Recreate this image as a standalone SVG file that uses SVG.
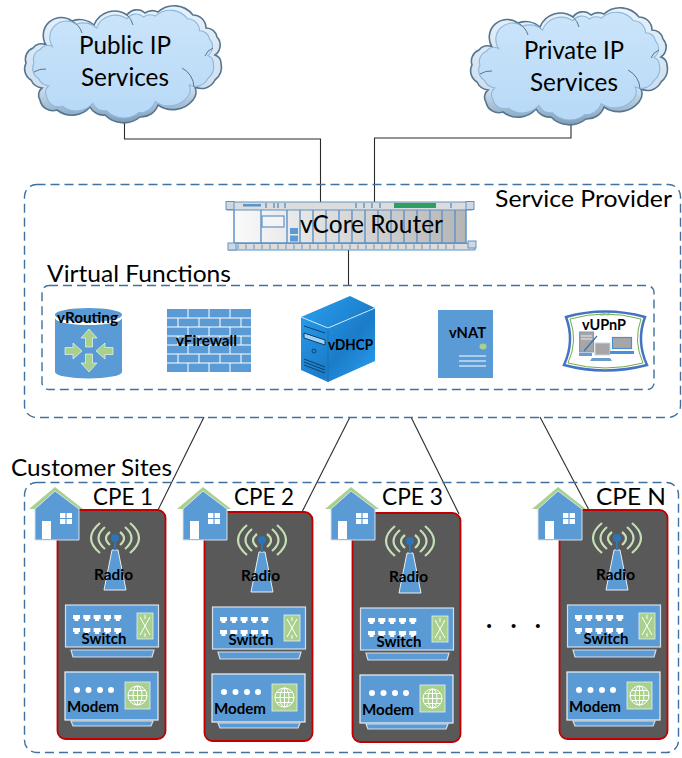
<svg xmlns="http://www.w3.org/2000/svg" xmlns:xlink="http://www.w3.org/1999/xlink" width="682" height="758" viewBox="0 0 682 758">
<style>
text{font-family:Lato,"Open Sans","Liberation Sans",sans-serif;fill:#000}
.big{font-size:25px}
.mid{font-size:23px}
.lab{font-size:15px;font-weight:700}
.dash{fill:none;stroke:#41719c;stroke-width:1.4;stroke-dasharray:9 5}
.wire{fill:none;stroke:#2b2b2b;stroke-width:1.1}
.blue{fill:#5b9bd5}
.green{fill:#a9d18e}
.edge{stroke:#d5dee8;stroke-width:1.2}
.slot{fill:none;stroke:#5f93c6;stroke-width:1.4}
</style>
<defs>
<linearGradient id="cl" x1="0" y1="0" x2="0" y2="1"><stop offset="0" stop-color="#cbe4fa"/><stop offset="1" stop-color="#b7d9f7"/></linearGradient>
<linearGradient id="clo" x1="0" y1="0" x2="0" y2="1"><stop offset="0" stop-color="#e6f2fc"/><stop offset=".7" stop-color="#cfdfee"/><stop offset="1" stop-color="#7f9db8"/></linearGradient>
<linearGradient id="rt" x1="0" y1="0" x2="1" y2="0"><stop offset="0" stop-color="#fafafa"/><stop offset="1" stop-color="#b5b5b5"/></linearGradient>
<linearGradient id="srv" x1="0" y1="0" x2="1" y2="1"><stop offset="0" stop-color="#2aa1f2"/><stop offset="0.6" stop-color="#1b7cc8"/><stop offset="1" stop-color="#2aa1f2"/></linearGradient>
<path id="cloudp" d="M46 45A18 18 0 0 1 72 21A22 22 0 0 1 94 25A22 22 0 0 1 127 15A12 12 0 0 1 145 13A13 13 0 0 1 158 12A24 24 0 0 1 193 15A13 13 0 0 1 206 28A11 11 0 0 1 217 37A12 12 0 0 1 215 55A9 9 0 0 1 221 63A17 17 0 0 1 215 80A15 15 0 0 1 195 87A13 13 0 0 1 193 100A26 26 0 0 1 158 105A18 18 0 0 1 140 117A26 26 0 0 1 105 115A15 15 0 0 1 90 107A24 24 0 0 1 57 110A13 13 0 0 1 40 100A9 9 0 0 1 42 88A14 14 0 0 1 31 80A13 13 0 0 1 26 63A12 12 0 0 1 33 48A10 10 0 0 1 46 45Z"/>
<g id="cloud">
<use xlink:href="#cloudp" fill="url(#clo)" stroke="#56768f" stroke-width="1.600"/>
<use xlink:href="#cloudp" fill="url(#cl)" stroke="#8db6da" stroke-width="1.200" transform="translate(10 5) scale(.92 .92)"/>
<path d="M182 68a22 22 0 0 1 12 19M205 56a14 14 0 0 1 8-8M72 21a20 20 0 0 1 10 12M127 15a20 20 0 0 1 6 10M34 72a20 20 0 0 1 12-3" fill="none" stroke="#56768f" stroke-width="1"/>
</g>
<g id="house">
<path class="green" d="M29 509L55 487L83 509L79 509L55 491L35 509Z"/>
<path class="blue" stroke="#d5dee8" d="M35 509L55 491L79 509V540H35Z"/>
<rect x="42" y="521" width="9" height="18" fill="#fff"/>
<path d="M60 513H72V524H60Z" fill="#fff"/>
<path d="M66 513V524M60 518.500H72" stroke="#5b9bd5" stroke-width="1.200"/>
</g>
<g id="cpe">
<rect x="57.500" y="510" width="108" height="229" rx="8" fill="#595959" stroke="#c00000" stroke-width="1.800"/>
<g fill="none" stroke="#c5e0b4" stroke-width="2.200">
<path d="M100 523Q82 538 100 553M130 523Q148 538 130 553"/>
<path d="M105 527Q92 538 105 549M125 527Q138 538 125 549"/>
<path d="M110 532Q102 538 110 545M120 532Q128 538 120 545"/>
</g>
<path d="M112 550H118L126 590H104Z" class="blue" stroke="#e7eef5"/>
<circle cx="115" cy="538" r="4" fill="#2e75b6"/>
<rect x="114" y="540" width="2" height="10" fill="#2e75b6"/>
<rect x="65.500" y="605" width="93" height="42" class="blue edge"/>
<path d="M71 650H154L152 657H73Z" class="blue edge"/>
<g fill="#fff">
<path id="pa" d="M73 615h7v4h-1.500v2h-4v-2h-1.500z"/>
<use xlink:href="#pa" x="10.300"/><use xlink:href="#pa" x="20.600"/><use xlink:href="#pa" x="31"/><use xlink:href="#pa" x="41.300"/>
<use xlink:href="#pa" y="13"/><use xlink:href="#pa" x="10.300" y="13"/><use xlink:href="#pa" x="20.600" y="13"/><use xlink:href="#pa" x="31" y="13"/><use xlink:href="#pa" x="41.300" y="13"/>
</g>
<rect x="137" y="613" width="16" height="26" class="green" stroke="#e7eef5" stroke-width=".8"/>
<path d="M140 617L150 635M150 617L140 635M145 615V619M145 633V637" stroke="#fff" fill="none"/>
<rect x="65" y="672" width="93" height="48" class="blue" stroke="#eef2f6" stroke-width="1.200"/>
<path d="M71 721H153L151 726H73Z" class="blue edge"/>
<g fill="#fff"><circle cx="77" cy="690" r="3"/><circle cx="88.500" cy="690" r="3"/><circle cx="100" cy="690" r="3"/><circle cx="111" cy="690" r="3"/></g>
<rect x="125" y="682" width="25" height="27" class="green" stroke="#e7eef5" stroke-width=".8"/>
<g fill="none" stroke="#fff" stroke-width="1"><circle cx="137.500" cy="695.500" r="9.500"/><ellipse cx="137.500" cy="695.500" rx="4.500" ry="9.500"/><path d="M137.500 686V705M128 695.500H147M129.500 690.500H145.500M129.500 700.500H145.500"/></g>
</g>
</defs>

<g id="connectors">
<path class="wire" d="M124.500 117V139H320.500V202"/>
<path class="wire" d="M571 118V138H374.500V202"/>
<path class="wire" d="M348.500 250V285"/>
<path class="wire" d="M204 417L158 510"/>
<path class="wire" d="M350 417L302 512"/>
<path class="wire" d="M411 417L459 514"/>
<path class="wire" d="M540 417L590 512"/>
</g>

<g id="cloud-public"><use xlink:href="#cloud"/>
<text class="big" x="79" y="54" textLength="92" lengthAdjust="spacingAndGlyphs">Public IP</text>
<text class="big" x="81" y="86" textLength="88" lengthAdjust="spacingAndGlyphs">Services</text></g>
<g id="cloud-private"><use xlink:href="#cloud" transform="translate(446 2)"/>
<text class="big" x="524" y="59" textLength="100" lengthAdjust="spacingAndGlyphs">Private IP</text>
<text class="big" x="530" y="91" textLength="88" lengthAdjust="spacingAndGlyphs">Services</text></g>

<g id="service-provider">
<rect class="dash" x="24.500" y="184.500" width="656" height="233" rx="12"/>
<text class="mid" x="495" y="207" textLength="177" lengthAdjust="spacingAndGlyphs">Service Provider</text>
</g>

<g id="vcore-router">
<rect x="234" y="209" width="232" height="34" fill="url(#rt)" stroke="#5f93c6" stroke-width="1.500"/>
<rect x="227" y="202" width="245" height="8" fill="#dcdcdc" stroke="#5f93c6"/>
<rect x="226" y="201.500" width="8" height="8" fill="#cfd8e2" stroke="#5f93c6"/>
<rect x="466" y="201.500" width="8" height="8" fill="#cfd8e2" stroke="#5f93c6"/>
<rect x="229" y="243.500" width="246" height="6.500" fill="#dcdcdc" stroke="#5f93c6"/>
<rect x="228" y="243" width="8" height="7" fill="#cfd8e2" stroke="#5f93c6"/>
<rect x="468" y="241" width="8" height="7" fill="#cfd8e2" stroke="#5f93c6"/>
<path class="slot" d="M261 210V243M287 210V243M300 210V243M313 210V243M326 210V243M339 210V243M352 210V243M365 210V243M378 210V243M391 210V243M404 210V243M417 210V243M430 210V243M442 210V243M455 210V243"/>
<rect x="262" y="216" width="22" height="11" fill="#f4f4f4" stroke="#5f93c6" stroke-width="1.200"/>
<rect x="290" y="228" width="8" height="6" fill="#5b9bd5"/><rect x="290" y="235.500" width="8" height="6" fill="#5b9bd5"/>
<rect x="394" y="203" width="42" height="5" fill="#2f9e63"/>
<path class="slot" d="M266 203V208M274 203V208M278 203V208M285 203V208M356 203V208M364 203V208M372 203V208M380 203V208M451 203V208"/>
<rect x="243" y="204" width="18" height="2.500" fill="#5f93c6"/>
<path d="M238 244.500V249M246 244.500V249M254 244.500V249M262 244.500V249M270 244.500V249M278 244.500V249M286 244.500V249M294 244.500V249M302 244.500V249M310 244.500V249M318 244.500V249M326 244.500V249M334 244.500V249M342 244.500V249M350 244.500V249M358 244.500V249M366 244.500V249M374 244.500V249M382 244.500V249M390 244.500V249M398 244.500V249M406 244.500V249M414 244.500V249M422 244.500V249M430 244.500V249M438 244.500V249M446 244.500V249M454 244.500V249" stroke="#5f93c6" fill="none"/>
<text class="big" x="300" y="233" textLength="143" lengthAdjust="spacingAndGlyphs">vCore Router</text>
</g>

<g id="virtual-functions">
<rect class="dash" x="42" y="285.500" width="612" height="104" rx="7"/>
<text class="mid" x="47" y="282" textLength="184" lengthAdjust="spacingAndGlyphs">Virtual Functions</text>
</g>

<g id="vrouting">
<path class="blue" d="M55 315V372A33.500 6.500 0 0 0 122 372V315Z"/>
<path d="M55 315A33.500 7 0 0 0 122 315L122 318A33.500 7 0 0 1 55 318Z" fill="#fff"/>
<ellipse cx="88.500" cy="314.500" rx="33.500" ry="6.500" class="blue"/>
<g class="green" stroke="#fff" stroke-width=".6">
<path d="M89 329L97 338H92.500V347H85.500V338H81Z"/>
<path d="M89 372L97 363H92.500V354H85.500V363H81Z"/>
<path d="M82 351L73 343V347.500H65V354.500H73V359Z"/>
<path d="M96 351L105 343V347.500H113V354.500H105V359Z"/>
</g>
<text class="lab" x="57" y="323" textLength="61" lengthAdjust="spacingAndGlyphs">vRouting</text>
</g>

<g id="vfirewall">
<rect class="blue" x="167" y="309" width="84" height="63"/>
<path d="M167 318H251M167 327H251M167 336H251M167 345H251M167 354H251M167 363H251M188 309V318M209 309V318M230 309V318M178 318V327M199 318V327M220 318V327M241 318V327M188 327V336M209 327V336M230 327V336M178 336V345M199 336V345M220 336V345M241 336V345M188 345V354M209 345V354M230 345V354M178 354V363M199 354V363M220 354V363M241 354V363M188 363V372M209 363V372M230 363V372" stroke="#fff" stroke-width="1" fill="none"/>
<text class="lab" x="176" y="346" textLength="61" lengthAdjust="spacingAndGlyphs">vFirewall</text>
</g>

<g id="vdhcp">
<path fill="url(#srv)" d="M301 317L350 296L375 308V361L328 382L301 370Z"/>
<path d="M301 317L328 328L375 308" fill="none" stroke="#fff" stroke-width=".8"/>
<path d="M328 328V382" stroke="#1668a8" stroke-width=".6"/>
<path d="M304 326L325 333M304 333L325 340V345L304 338Z" stroke="#0d3f66" stroke-width="1" fill="#9ed3f7"/>
<circle cx="314" cy="351" r="2" fill="none" stroke="#0d3f66"/>
<path d="M304 359L325 367M304 362L325 370M304 365L325 373" stroke="#0d3f66"/>
<text class="lab" x="328" y="350" textLength="45" lengthAdjust="spacingAndGlyphs">vDHCP</text>
</g>

<g id="vnat">
<rect class="blue" x="438" y="310" width="55" height="68"/>
<ellipse cx="483" cy="346.500" rx="3.500" ry="3" class="green"/>
<path d="M459 356H486M459 361H486M459 366H486" stroke="#fff" stroke-width="1.200"/>
<text class="lab" x="449" y="338" textLength="37" lengthAdjust="spacingAndGlyphs">vNAT</text>
</g>

<g id="vupnp">
<path d="M566 317Q605 306 645 317Q636 341 647 365Q605 376 564 365Q575 341 566 317Z" fill="#fff" stroke="#4472c4" stroke-width="2.500"/>
<path d="M570 319Q605 309 641 319Q633 341 643 363Q605 373 568 363Q578 341 570 319Z" fill="none" stroke="#70ad47" stroke-width="1"/>
<rect x="579.500" y="332" width="14" height="20" fill="#a6a6a6" stroke="#6c9ccb"/>
<path d="M581 336H592M581 339H592" stroke="#fff" stroke-width=".8"/>
<path d="M584 351L597 336" stroke="#2e75b6" stroke-width="1.200"/>
<path d="M579 353H592V356H579Z" fill="#6c9ccb"/>
<rect x="595" y="343" width="15" height="12" fill="#a6a6a6" stroke="#c8d4e0"/>
<path d="M592 358H610L612 361H590Z" fill="#6c9ccb"/>
<rect x="612.500" y="337.500" width="19" height="11" fill="#a6a6a6" stroke="#4a90d9" stroke-width="1.200"/>
<path d="M610 351H634V354H610Z" fill="#4a90d9"/>
<text x="605" y="315.500" font-size="4" style="fill:#70ad47" text-anchor="middle">UPnP</text>
<text class="lab" x="582" y="330" textLength="44" lengthAdjust="spacingAndGlyphs">vUPnP</text>
</g>

<g id="customer-sites">
<rect class="dash" x="24.500" y="482.500" width="654" height="270" rx="12"/>
<text class="mid" x="11" y="476" textLength="161" lengthAdjust="spacingAndGlyphs">Customer Sites</text>
<text x="486" y="628" font-size="26" textLength="55" style="font-weight:700">. . .</text>
</g>

<g id="cpe-1"><use xlink:href="#cpe"/><use xlink:href="#house"/>
<text class="mid" x="93" y="505" textLength="60" lengthAdjust="spacingAndGlyphs">CPE 1</text>
<text class="lab" x="94" y="580" textLength="39" lengthAdjust="spacingAndGlyphs">Radio</text>
<text class="lab" x="81.500" y="644" textLength="45" lengthAdjust="spacingAndGlyphs">Switch</text>
<text class="lab" x="67" y="712" textLength="52" lengthAdjust="spacingAndGlyphs">Modem</text></g>

<g id="cpe-2"><use xlink:href="#cpe" transform="translate(147 2)"/><use xlink:href="#house" x="148"/>
<text class="mid" x="234" y="505" textLength="60" lengthAdjust="spacingAndGlyphs">CPE 2</text>
<text class="lab" x="241" y="581" textLength="39" lengthAdjust="spacingAndGlyphs">Radio</text>
<text class="lab" x="228.500" y="645" textLength="45" lengthAdjust="spacingAndGlyphs">Switch</text>
<text class="lab" x="214" y="714" textLength="52" lengthAdjust="spacingAndGlyphs">Modem</text></g>

<g id="cpe-3"><use xlink:href="#cpe" transform="translate(295 3)"/><use xlink:href="#house" x="296"/>
<text class="mid" x="382" y="505" textLength="61" lengthAdjust="spacingAndGlyphs">CPE 3</text>
<text class="lab" x="389" y="582" textLength="39" lengthAdjust="spacingAndGlyphs">Radio</text>
<text class="lab" x="376.500" y="647" textLength="45" lengthAdjust="spacingAndGlyphs">Switch</text>
<text class="lab" x="362" y="715" textLength="52" lengthAdjust="spacingAndGlyphs">Modem</text></g>

<g id="cpe-n"><use xlink:href="#cpe" transform="translate(502 0)"/><use xlink:href="#house" x="503"/>
<text class="mid" x="596" y="505" textLength="70" lengthAdjust="spacingAndGlyphs">CPE N</text>
<text class="lab" x="596" y="580" textLength="39" lengthAdjust="spacingAndGlyphs">Radio</text>
<text class="lab" x="583.500" y="644" textLength="45" lengthAdjust="spacingAndGlyphs">Switch</text>
<text class="lab" x="569" y="712" textLength="52" lengthAdjust="spacingAndGlyphs">Modem</text></g>
</svg>
